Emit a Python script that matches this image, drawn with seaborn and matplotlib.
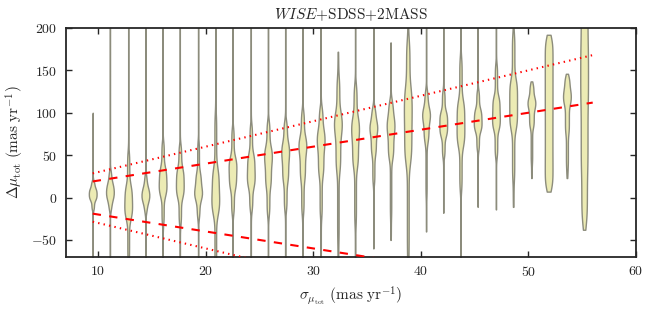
import numpy as np
import pandas as pd
import seaborn as sns
import matplotlib
matplotlib.use('Agg')
import matplotlib.pyplot as plt

# bin centres (sigma_mu_tot, mas/yr)
positions = [9.5, 11.1, 12.8, 14.4, 16.0, 17.6, 19.3, 20.9, 22.5, 24.2,
             25.8, 27.4, 29.0, 30.7, 32.3, 33.9, 35.6, 37.2, 38.8, 40.5,
             42.1, 43.7, 45.3, 47.0, 48.6, 50.3, 51.9, 53.6, 55.2]

# read-off quantiles of delta mu_tot in each bin (min, 3%, 20%, 50%, 80%, 97%, max)
q_min = [-80, -80, -100, -80, -80, -80, -80, -120, -80, -80,
         -80, -80, -80, -80, -80, -80, -60, -50, -100, -40,
         -18, -100, -11, -14, -11, 23, 7, 23, -38]
q_03 = [-15, -15, -75, -18, -32, -32, -25, -90, -20, -16,
        -22, -16, -20, -24, -52, -32, 15, -24, -68, 0,
        47, 7, 55, 47, 20, 40, 13, 35, -25]
q_20 = [-3, -2, -25, -5, 2, 0, -2, -20, 10, 12,
        12, 18, 20, 25, 30, 35, 50, 45, 40, 65,
        72, 60, 78, 80, 80, 82, 44, 75, 30]
q_50 = [4, 7, -6, 3, 18, 17, 10, 5, 30, 31,
        40, 45, 52, 58, 75, 70, 75, 75, 87, 91,
        87, 87, 91, 99, 110, 105, 100, 110, 110]
q_80 = [11, 17, 15, 12, 36, 35, 30, 35, 48, 52,
        60, 65, 72, 80, 100, 95, 90, 95, 130, 105,
        102, 115, 105, 120, 140, 118, 155, 127, 180]
q_97 = [20, 32, 55, 27, 67, 63, 67, 100, 83, 87,
        91, 91, 103, 107, 142, 134, 107, 115, 186, 127,
        127, 166, 127, 158, 194, 133, 186, 142, 225]
q_max = [100, 240, 240, 240, 240, 240, 240, 240, 240, 240,
         240, 240, 240, 240, 172, 240, 240, 183, 240, 240,
         240, 240, 240, 210, 240, 137, 192, 146, 235]

# reference lines: delta = +/- k * sigma
line_x = [9.5, 56.0]
k_dashed = 2.0
k_dotted = 3.0

# build a long table for seaborn from the read quantiles
probs = [0.0, 0.03, 0.2, 0.5, 0.8, 0.97, 1.0]
grid = np.linspace(0, 1, 400)
rows = []
for i, x in enumerate(positions):
    knots = [q_min[i], q_03[i], q_20[i], q_50[i], q_80[i], q_97[i], q_max[i]]
    vals = np.interp(grid, probs, knots)
    rows.append(pd.DataFrame({'sigma': x, 'delta': vals}))
df = pd.concat(rows, ignore_index=True)

sns.set_style('ticks')
plt.rcParams['font.family'] = 'serif'
plt.rcParams['font.serif'] = ['cmr10', 'DejaVu Serif']
plt.rcParams['mathtext.fontset'] = 'cm'
plt.rcParams['axes.formatter.use_mathtext'] = True

fig, ax = plt.subplots(figsize=(6.65, 3.11), dpi=100)
fig.subplots_adjust(left=0.099, right=0.956, top=0.91, bottom=0.174)

sns.violinplot(data=df, x='sigma', y='delta', native_scale=True, cut=0,
               inner=None, density_norm='width', width=0.45, bw_adjust=0.55,
               color='#ecebb4', saturation=1, linecolor='#8c8c7c',
               linewidth=1.0, ax=ax)

xs = np.array(line_x)
ax.plot(xs, k_dashed * xs, color='red', lw=1.5, dashes=(4, 4), zorder=5)
ax.plot(xs, -k_dashed * xs, color='red', lw=1.5, dashes=(4, 4), zorder=5)
ax.plot(xs, k_dotted * xs, color='red', lw=1.5, dashes=(0.67, 2), zorder=5)
ax.plot(xs, -k_dotted * xs, color='red', lw=1.5, dashes=(0.67, 2), zorder=5)

ax.set_xlim(7, 60)
ax.set_ylim(-70, 200)
ax.set_xticks([10, 20, 30, 40, 50, 60])
ax.set_yticks([-50, 0, 50, 100, 150, 200])
ax.tick_params(direction='in', top=True, right=True, length=4, width=1,
               labelsize=10, pad=6)
for s in ax.spines.values():
    s.set_linewidth(1.3)

ax.set_xlabel(r'$\sigma_{\mu_{\rm tot}}\ ({\rm mas\ yr}^{-1})$', fontsize=11)
ax.set_ylabel(r'$\Delta\mu_{\rm tot}\ ({\rm mas\ yr}^{-1})$', fontsize=11)
ax.set_title(r'$WISE$+SDSS+2MASS', fontsize=11)

plt.savefig('out.png', dpi=100)
plt.close()
